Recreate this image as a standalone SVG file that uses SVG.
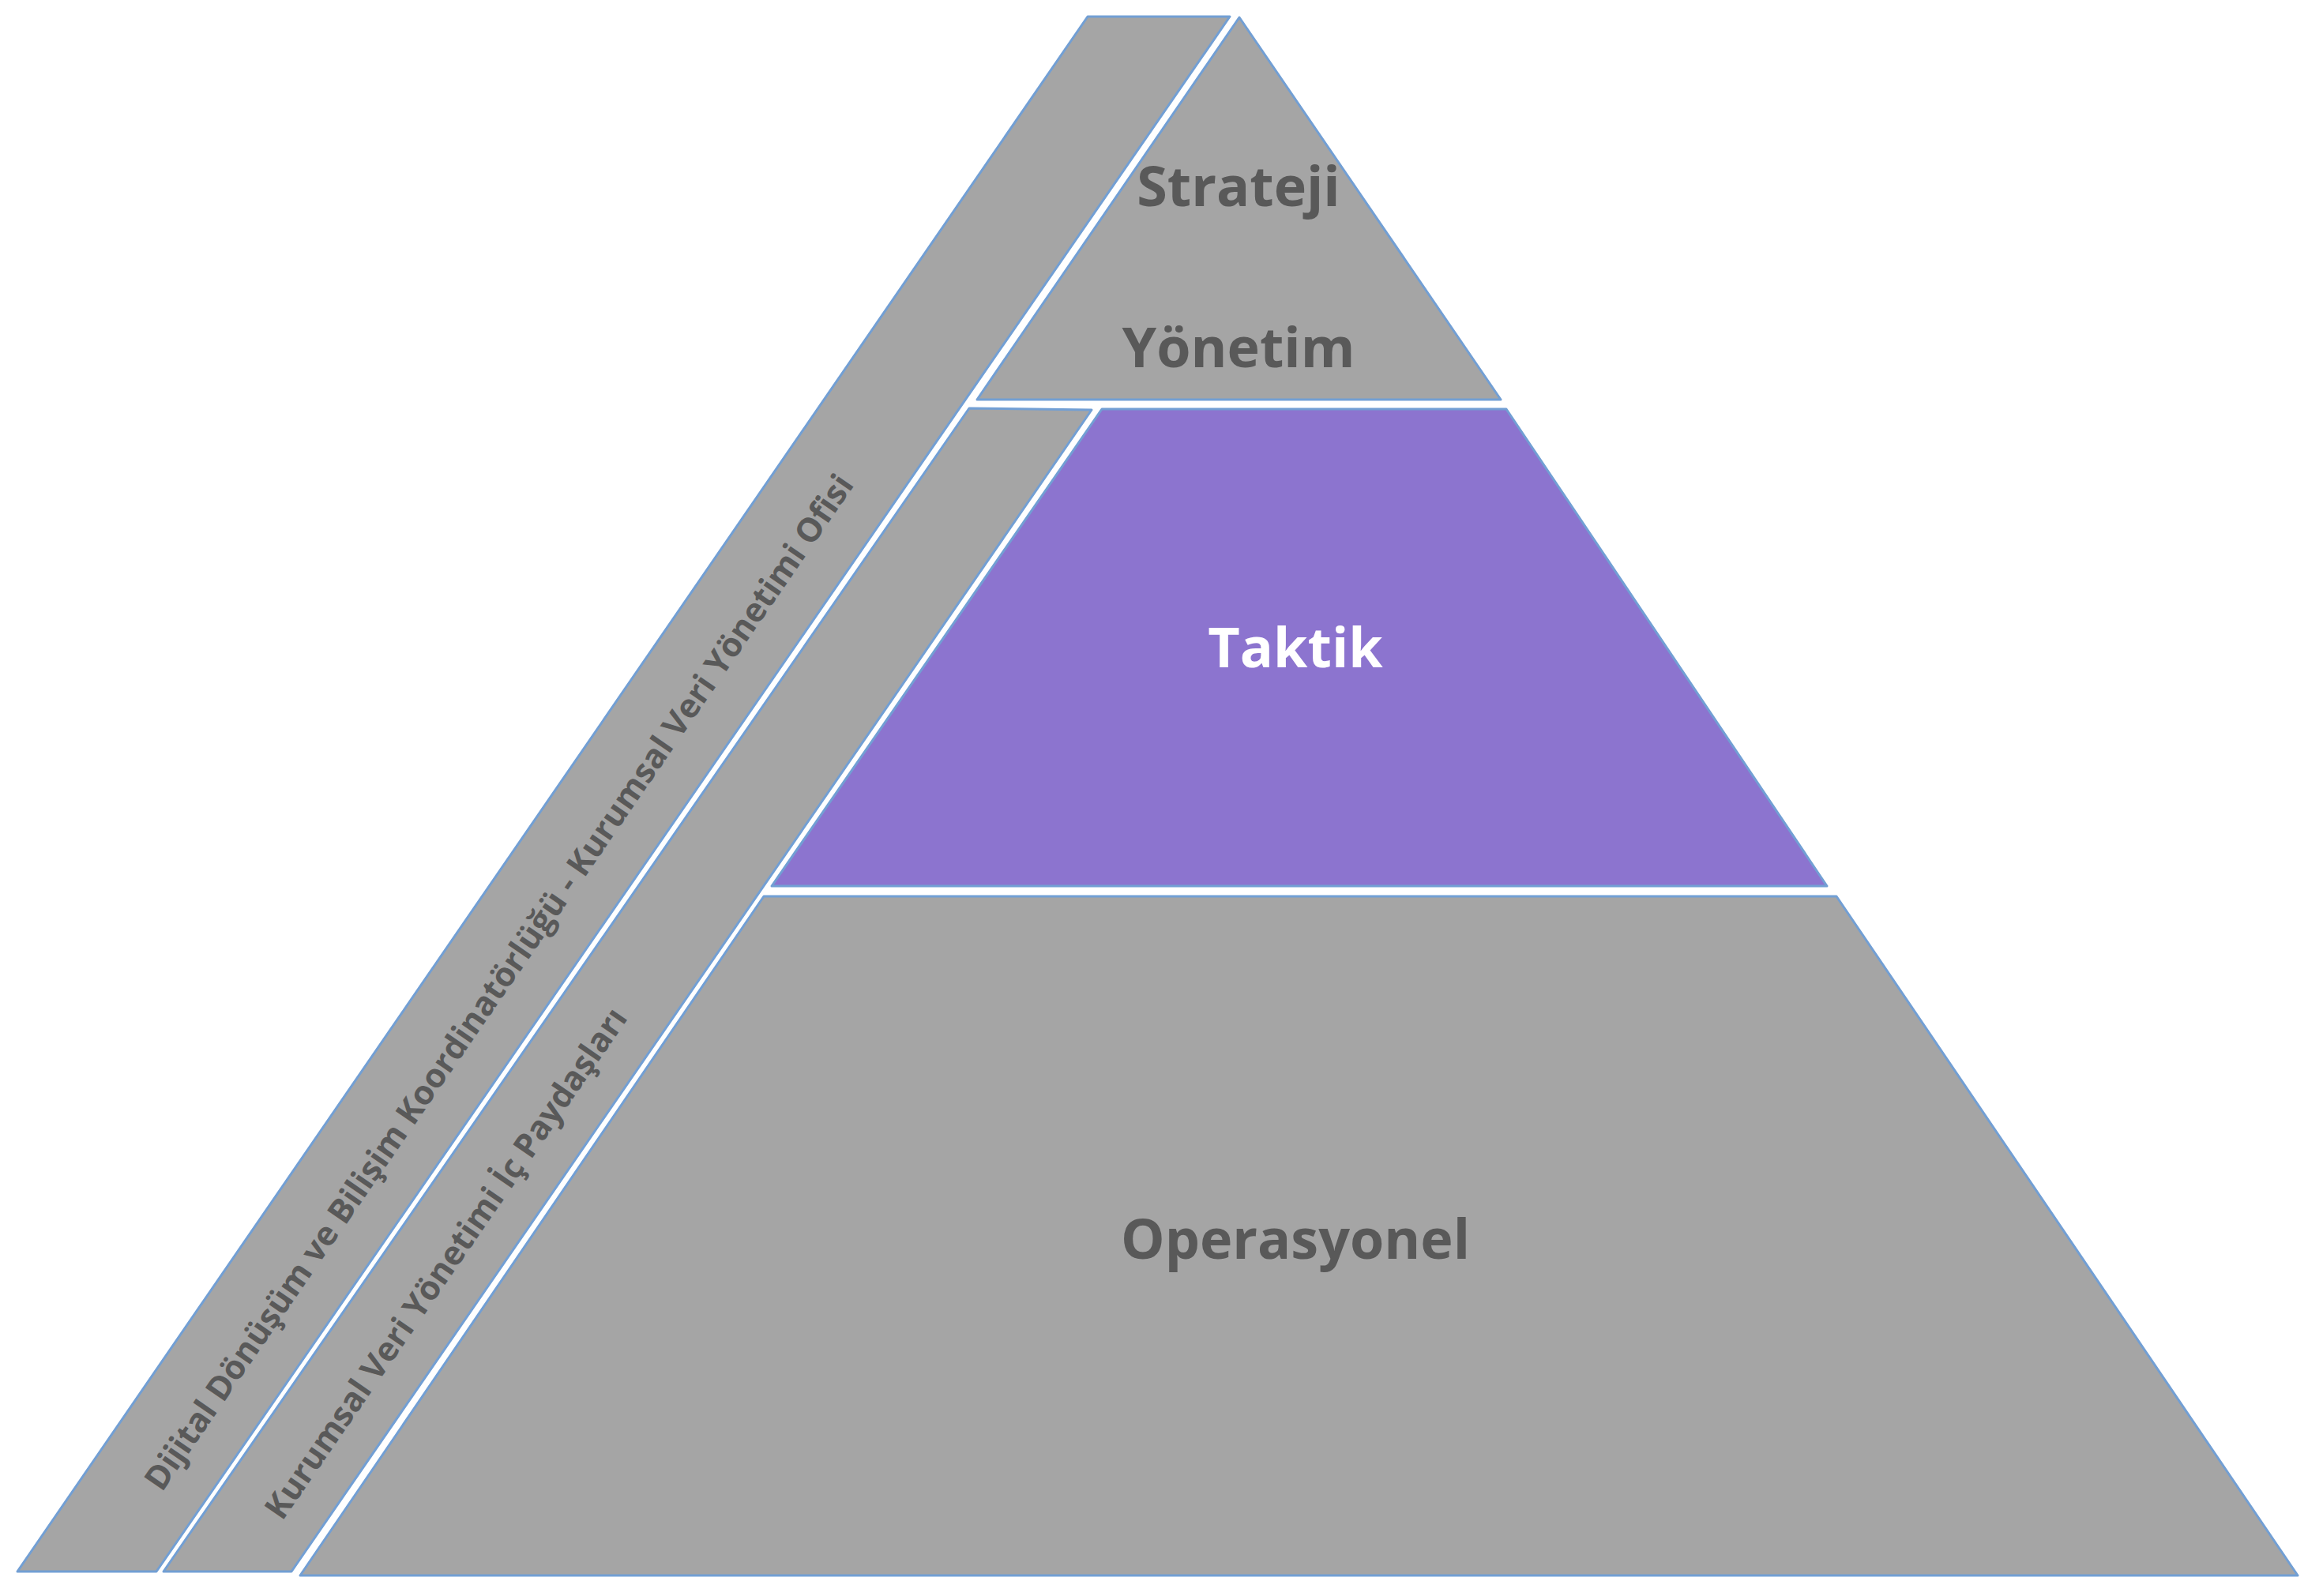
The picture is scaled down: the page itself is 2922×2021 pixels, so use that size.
<svg xmlns="http://www.w3.org/2000/svg" width="2922" height="2021" viewBox="0 0 2922 2021">
<style>
.s{stroke:#729fd4;stroke-width:3;stroke-linejoin:round}
.g{fill:#a5a5a5}
.p{fill:#8c74cf}
.t{font-family:"Open Sans","Liberation Sans",sans-serif;font-weight:bold;fill:#595959;text-anchor:middle}
.w{fill:#ffffff}
</style>
<rect width="2922" height="2021" fill="#ffffff"/>
<g id="band1"><polygon class="s g" points="1377,21 1557,21 198,1990 22,1990"/>
<text class="t" font-size="42" transform="translate(632,1244) rotate(-55.5)" dy="14">Dijital Dönüşüm ve Bilişim Koordinatörlüğü - Kurumsal Veri Yönetimi Ofisi</text></g>
<g id="band2"><polygon class="s g" points="1227,517 1382,519 369,1990 207,1990"/>
<text class="t" font-size="42" transform="translate(565,1600) rotate(-55.5)" dy="14">Kurumsal Veri Yönetimi İç Paydaşları</text></g>
<g id="strateji"><polygon class="s g" points="1569,22 1900,506 1237,506"/>
<text class="t" font-size="70" x="1568" y="261">Strateji</text>
<text class="t" font-size="70" x="1568" y="465">Yönetim</text></g>
<g id="taktik"><polygon class="s p" points="1395,518 1907,518 2313,1122 977,1122"/>
<text class="t w" font-size="70" x="1640" y="845">Taktik</text></g>
<g id="operasyonel"><polygon class="s g" points="967,1135 2325,1135 2909,1995 380,1995"/>
<text class="t" font-size="70" x="1640" y="1594">Operasyonel</text></g>
<g id="connectors"/>
</svg>
